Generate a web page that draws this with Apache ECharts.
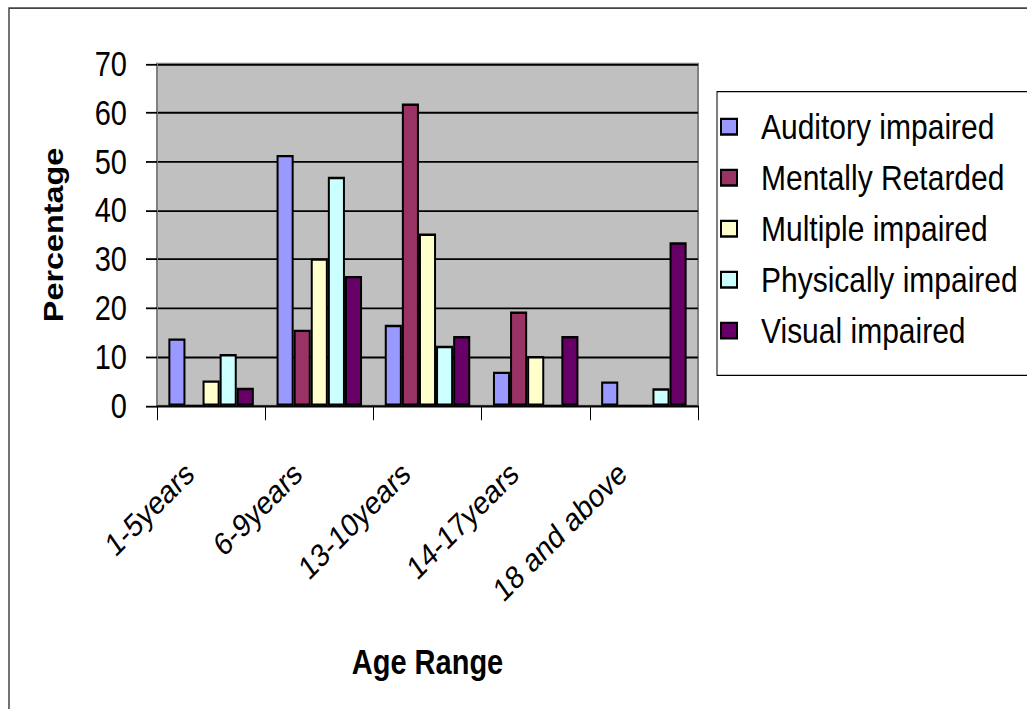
<!DOCTYPE html>
<html>
<head>
<meta charset="utf-8">
<script src="https://cdn.jsdelivr.net/npm/echarts@6/dist/echarts.min.js"></script>
<style>
  html, body { margin: 0; padding: 0; background: #fff; }
  #page { position: relative; width: 1027px; height: 709px; overflow: hidden; }
  /* The chart is laid out at a shorter height and stretched vertically,
     giving the tall, narrow lettering of the printed figure. */
  #chart { position: absolute; left: 0; top: 0; width: 1027px; height: 591px;
           transform: scaleY(1.19966); transform-origin: 0 0; }
</style>
</head>
<body>
<div id="page"><div id="chart"></div></div>
<script>
// Age groups on the category axis
const categories = ['1-5years', '6-9years', '13-10years', '14-17years', '18 and above'];

// Percentage of each impairment group per age range
const auditoryImpaired   = [13.8, 51.4, 16.6, 7.0, 5.0];
const mentallyRetarded   = [0, 15.6, 61.9, 19.3, 0];
const multipleImpaired   = [5.2, 30.2, 35.3, 10.2, 0];
const physicallyImpaired = [10.6, 46.9, 12.3, 0, 3.6];
const visualImpaired     = [3.7, 26.6, 14.3, 14.3, 33.5];

const seriesNames = ['Auditory impaired', 'Mentally Retarded', 'Multiple impaired', 'Physically impaired', 'Visual impaired'];
const seriesValues = [auditoryImpaired, mentallyRetarded, multipleImpaired, physicallyImpaired, visualImpaired];
const seriesColors = ['#9999FF', '#993366', '#FFFFCC', '#CCFFFF', '#660066'];

// Y axis range
const yMin = 0, yMax = 70, yStep = 10;

const face = '"Liberation Sans", Arial, sans-serif';

const chart = echarts.init(document.getElementById('chart'), null, { renderer: 'svg' });

const series = seriesNames.map((name, i) => ({
  name: name,
  type: 'bar',
  data: seriesValues[i],
  barGap: '0%',
  barCategoryGap: '21%',
  itemStyle: { color: seriesColors[i], borderColor: '#000', borderWidth: 2 },
  emphasis: { disabled: true }
}));

chart.setOption({
  animation: false,
  backgroundColor: '#fff',
  grid: {
    left: 157, top: 53.4, right: 329, bottom: 252.7,
    show: true, backgroundColor: '#C0C0C0', borderColor: '#808080', borderWidth: 2
  },
  legend: {
    orient: 'vertical',
    left: 717, top: 76.4,
    padding: [12.2, 40, 20.3, 3],
    itemWidth: 16, itemHeight: 13, itemGap: 8.5,
    icon: 'rect',
    borderColor: '#000', borderWidth: 1,
    textStyle: { fontFamily: face, fontSize: 30, color: '#000', lineHeight: 34, padding: [0, 0, 0, 19] },
    data: seriesNames
  },
  xAxis: {
    type: 'category',
    data: categories,
    name: 'Age Range',
    nameLocation: 'middle',
    nameGap: 199,
    nameTextStyle: { fontFamily: face, fontWeight: 'bold', fontSize: 29, color: '#000' },
    axisLine: { lineStyle: { color: '#000', width: 1 } },
    axisTick: { show: true, length: 12, lineStyle: { color: '#000', width: 1 } },
    axisLabel: {
      interval: 0, rotate: 40, margin: 34, padding: [0, 28, 0, 0],
      fontFamily: face, fontSize: 27, color: '#000'
    }
  },
  yAxis: {
    type: 'value',
    min: yMin, max: yMax, interval: yStep,
    name: 'Percentage',
    nameLocation: 'middle',
    nameGap: 90,
    nameTextStyle: { fontFamily: face, fontWeight: 'bold', fontSize: 27, color: '#000' },
    axisLine: { show: true, lineStyle: { color: '#808080', width: 2 } },
    axisTick: { show: true, length: 11, lineStyle: { color: '#000', width: 1.5 } },
    axisLabel: { margin: 30, fontFamily: face, fontSize: 29, color: '#000' },
    splitLine: { show: true, lineStyle: { color: '#000', width: 1.5 } }
  },
  graphic: [{
    type: 'rect',
    shape: { x: 9, y: 6.7, width: 1040, height: 600 },
    style: { fill: 'none', stroke: '#444', lineWidth: 1.5 },
    silent: true
  }],
  series: series
});
</script>
</body>
</html>
